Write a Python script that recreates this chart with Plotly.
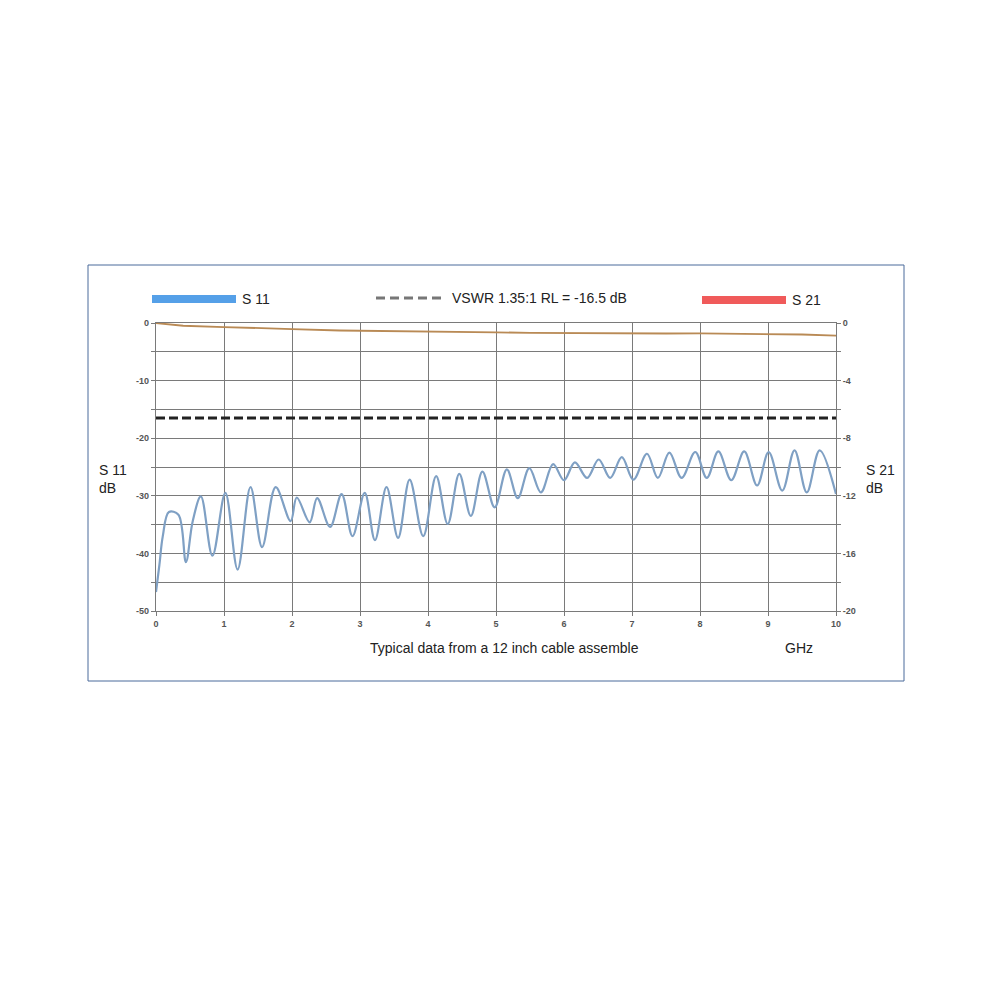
import plotly.graph_objects as go

# ---- data ----
s11_freq = [0, 0.05, 0.1, 0.19, 0.33, 0.44, 0.54, 0.66, 0.83, 1.02, 1.2, 1.39, 1.56, 1.76,
            1.98, 2.07, 2.26, 2.37, 2.56, 2.73, 2.89, 3.07, 3.22, 3.39, 3.56, 3.73, 3.93,
            4.12, 4.29, 4.46, 4.63, 4.80, 4.98, 5.16, 5.32, 5.49, 5.66, 5.84, 6.0, 6.16,
            6.34, 6.51, 6.68, 6.85, 7.02, 7.22, 7.38, 7.55, 7.73, 7.93, 8.10, 8.27, 8.46,
            8.65, 8.84, 9.01, 9.21, 9.39, 9.57, 9.76, 10.0]
s11_db = [-46.7, -42.0, -37.0, -32.8, -33.3, -41.5, -34.4, -30.1, -40.4, -29.5, -42.8, -28.5,
          -38.9, -28.5, -34.4, -30.3, -34.6, -30.4, -35.4, -29.7, -37.0, -29.5, -37.7, -28.5,
          -37.3, -27.2, -37.0, -26.6, -34.9, -26.2, -33.5, -25.8, -32.0, -25.4, -30.4, -25.2,
          -29.4, -24.5, -27.3, -24.2, -26.9, -23.7, -26.9, -23.3, -27.2, -22.7, -26.9, -22.5,
          -26.9, -22.4, -26.9, -22.3, -27.3, -22.3, -28.2, -22.4, -29.1, -22.1, -29.4, -22.1,
          -29.7]

s21_freq = [0, 0.2, 0.4, 1, 1.5, 2, 2.7, 3.5, 4, 4.5, 5, 5.5, 6, 6.5, 7, 7.5, 8, 8.5, 9, 9.5, 10]
s21_db = [0, -0.1, -0.19, -0.28, -0.33, -0.42, -0.52, -0.55, -0.6, -0.62, -0.65, -0.68,
          -0.7, -0.71, -0.76, -0.73, -0.72, -0.75, -0.76, -0.8, -0.88]

vswr_limit = -16.5
x_ticks = list(range(0, 11))
y1_ticks = [0, -5, -10, -15, -20, -25, -30, -35, -40, -45, -50]
y1_text = ["0", "", "-10", "", "-20", "", "-30", "", "-40", "", "-50"]
y2_ticks = [0, -2, -4, -6, -8, -10, -12, -14, -16, -18, -20]
y2_text = ["0", "", "-4", "", "-8", "", "-12", "", "-16", "", "-20"]

FONT = "Liberation Sans"

fig = go.Figure()
fig.add_trace(go.Scatter(x=[0, 10], y=[vswr_limit, vswr_limit], mode="lines",
                         line=dict(color="#222222", width=3, dash="9px,4px"),
                         showlegend=False, hoverinfo="skip"))
fig.add_trace(go.Scatter(x=s11_freq, y=s11_db, mode="lines",
                         line=dict(color="#7fa0c4", width=2.2, shape="spline", smoothing=1.0),
                         showlegend=False))
fig.add_trace(go.Scatter(x=s21_freq, y=s21_db, mode="lines", yaxis="y2",
                         line=dict(color="#b98a55", width=1.8),
                         showlegend=False))

grid = "#7a7a7a"
tickfont = dict(family=FONT, size=9, color="#555555", weight="bold")

fig.update_layout(
    width=1000, height=1000,
    margin=dict(l=148, r=172, t=315, b=397),
    paper_bgcolor="white", plot_bgcolor="white",
    xaxis=dict(range=[0, 10], tickvals=x_ticks, showgrid=True, gridcolor=grid, gridwidth=1.3,
               zeroline=False, showline=True, linecolor=grid, mirror=True, linewidth=1.3,
               ticks="outside", ticklen=4, tickcolor=grid, tickfont=tickfont),
    yaxis=dict(range=[-50, 0], tickvals=y1_ticks, ticktext=y1_text, showgrid=True,
               gridcolor=grid, gridwidth=1.3, zeroline=False, showline=True, linecolor=grid,
               mirror=True, linewidth=1.3, ticks="outside", ticklen=4, tickcolor=grid,
               tickfont=tickfont),
    yaxis2=dict(range=[-20, 0], tickvals=y2_ticks, ticktext=y2_text, overlaying="y",
                side="right", showgrid=False, zeroline=False, ticks="outside", ticklen=4,
                tickcolor=grid, tickfont=tickfont),
    showlegend=False,
)

# coordinate helpers (target pixel -> paper fraction); plot area 156..836 x 323..611
def px_x(p):
    return (p - 156) / 680.0

def px_y(p):
    return (611 - p) / 288.0

# outer frame
fig.add_shape(type="rect", xref="paper", yref="paper", x0=px_x(88), x1=px_x(904),
              y0=px_y(681), y1=px_y(265),
              line=dict(color="#4a6b9b", width=1), fillcolor="rgba(0,0,0,0)", layer="below")

# custom legend
fig.add_shape(type="line", xref="paper", yref="paper", x0=px_x(152), x1=px_x(236),
              y0=px_y(299), y1=px_y(299), line=dict(color="#55a0e8", width=8))
fig.add_shape(type="line", xref="paper", yref="paper", x0=px_x(376), x1=px_x(442),
              y0=px_y(298), y1=px_y(298), line=dict(color="#777777", width=3, dash="9px,5px"))
fig.add_shape(type="line", xref="paper", yref="paper", x0=px_x(702), x1=px_x(786),
              y0=px_y(300), y1=px_y(300), line=dict(color="#f05a5a", width=8))

txt = dict(family=FONT, size=14, color="#222222")
ann = [
    ("S 11", 240, 299, "left"),
    ("VSWR 1.35:1 RL = -16.5 dB", 450, 298, "left"),
    ("S 21", 790, 300, "left"),
    ("S 11<br>dB", 97, 479, "left"),
    ("S 21<br>dB", 864, 479, "left"),
    ("Typical data from a 12 inch cable assemble", 505, 648, "center"),
    ("GHz", 799, 648, "center"),
]
for t, x, y, a in ann:
    fig.add_annotation(text=t, xref="paper", yref="paper", x=px_x(x), y=px_y(y),
                       xanchor=a, yanchor="middle", showarrow=False, font=txt, align="left")

fig.write_html("out.html")
